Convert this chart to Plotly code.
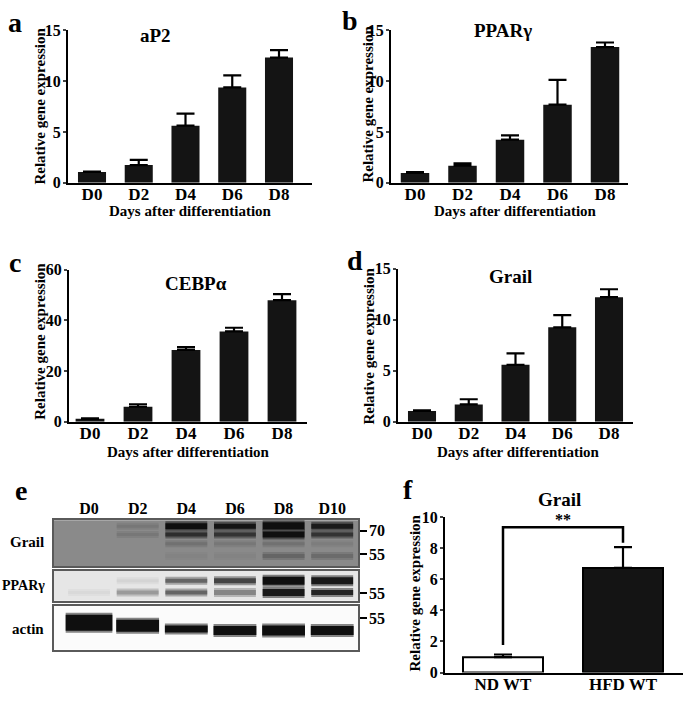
import plotly.graph_objects as go

W, H = 685, 702
FONT = "Liberation Serif"

# ---------------- data ----------------
days = ["D0", "D2", "D4", "D6", "D8"]

ap2_mean = [1.05, 1.73, 5.62, 9.38, 12.33]
ap2_sem = [0.05, 0.52, 1.18, 1.19, 0.74]

pparg_mean = [0.95, 1.67, 4.24, 7.68, 13.36]
pparg_sem = [0.10, 0.23, 0.42, 2.44, 0.45]

cebpa_mean = [1.15, 5.9, 28.3, 35.6, 47.9]
cebpa_sem = [0.2, 1.0, 1.1, 1.45, 2.4]

grail_mean = [1.06, 1.69, 5.57, 9.24, 12.2]
grail_sem = [0.05, 0.51, 1.13, 1.19, 0.77]

diet_groups = ["ND WT", "HFD WT"]
diet_mean = [0.99, 6.74]
diet_sem = [0.17, 1.34]
bracket_left, bracket_top, bracket_right = 1.77, 9.37, 8.36

# western blot (band intensity 0..1 per lane, apparent kDa)
blot_lanes = ["D0", "D2", "D4", "D6", "D8", "D10"]
grail_band_kda = [72.8, 67.5, 61.6, 53.75]
grail_bands = [
    [0.0, 0.15, 1.0, 0.95, 1.0, 0.9],
    [0.0, 0.15, 0.75, 0.7, 1.0, 0.7],
    [0.0, 0.0, 0.2, 0.15, 0.2, 0.1],
    [0.0, 0.0, 0.05, 0.05, 0.3, 0.25],
]
grail_band_px = [[0, 3, 6, 5, 8, 5], [0, 3, 4, 4, 6, 4], [0, 0, 3, 3, 3, 3], [0, 0, 4, 4, 4, 4]]

pparg_band_kda = [63.1, 55.6]
pparg_bands = [
    [0.0, 0.08, 0.6, 0.75, 1.0, 0.95],
    [0.06, 0.35, 0.6, 0.45, 0.95, 0.9],
]
pparg_band_px = [[0, 3, 4, 5, 8, 7], [3, 4, 4, 5, 7, 5]]

actin_kda = [52.2, 50.3, 48.1, 47.2, 47.2, 47.2]
actin_int = [1.0, 1.0, 1.0, 1.0, 1.0, 1.0]
actin_px = [16, 12, 7, 9, 10, 9]

# ---------------- helpers ----------------
def fx(px):
    return px / W

def fy(py):
    return 1 - py / H

fig = go.Figure()
layout = dict(
    width=W, height=H, margin=dict(l=0, r=0, t=0, b=0),
    paper_bgcolor="white", plot_bgcolor="white", showlegend=False,
    font=dict(family=FONT, color="black"),
)
annotations = []
shapes = []

def txt(x, y, s, size, angle=0, xanchor="center", yanchor="middle"):
    annotations.append(dict(x=fx(x), y=fy(y), xref="paper", yref="paper", text=s,
                            showarrow=False, textangle=angle, xanchor=xanchor, yanchor=yanchor,
                            font=dict(family=FONT, size=size, weight="bold", color="black")))

BAR = "#141414"

def bar_panel(idx, cats, mean, sem, xpx, ypx, xr, yr, dtick, colors=None, lines=None, width=0.6):
    xa, ya = f"x{idx}" if idx > 1 else "x", f"y{idx}" if idx > 1 else "y"
    fig.add_trace(go.Bar(
        x=list(range(len(cats))), y=mean, width=width, xaxis=xa, yaxis=ya,
        marker=dict(color=colors or BAR, line=dict(color="black", width=lines or 0)),
        error_y=dict(type="data", array=sem, arrayminus=[0] * len(sem), symmetric=False,
                     color="black", thickness=2.2, width=9),
    ))
    key = "" if idx == 1 else str(idx)
    layout["xaxis" + key] = dict(
        domain=[fx(xpx[0]), fx(xpx[1])], range=xr, anchor=ya,
        tickvals=list(range(len(cats))), ticktext=cats, showline=True, linecolor="black",
        linewidth=2, ticks="", showgrid=False, zeroline=False, ticklabelstandoff=-5,
        tickfont=dict(family=FONT, size=17, weight="bold"), fixedrange=True)
    layout["yaxis" + key] = dict(
        domain=[fy(ypx[1]), fy(ypx[0])], range=yr, anchor=xa, dtick=dtick,
        showline=True, linecolor="black", linewidth=2, ticks="outside", ticklen=3,
        tickwidth=2, showgrid=False, zeroline=False, ticklabelstandoff=-1,
        tickfont=dict(family=FONT, size=16, weight="bold"), fixedrange=True)

def xr_from(axis_px, c0, c_last, right_px, n):
    sp = (c_last - c0) / (n - 1)
    return [(axis_px - c0) / sp, (right_px - c0) / sp]

# panel a
bar_panel(1, days, ap2_mean, ap2_sem, (68, 312), (23, 179), xr_from(68, 92, 279, 312, 5), [0, 15], 5)
# panel b
bar_panel(2, days, pparg_mean, pparg_sem, (391, 628), (23, 179), xr_from(391, 415, 605, 628, 5), [0, 15], 5)
# panel c
bar_panel(3, days, cebpa_mean, cebpa_sem, (69, 307), (268, 424), xr_from(69, 90, 282, 307, 5), [0, 60], 20)
# panel d
bar_panel(4, days, grail_mean, grail_sem, (398, 633), (267, 424), xr_from(398, 422, 609, 633, 5), [0, 15], 5)
# panel f
bar_panel(5, diet_groups, diet_mean, diet_sem, (445, 683), (522, 681), xr_from(445, 503, 623, 683, 2),
          [0, 10], 2, colors=["white", BAR], lines=2, width=0.667)

fig.add_trace(go.Scatter(x=[0, 0, 1, 1], y=[bracket_left, bracket_top, bracket_top, bracket_right],
                         mode="lines", line=dict(color="black", width=2.5), xaxis="x5", yaxis="y5",
                         hoverinfo="skip"))
annotations.append(dict(x=0.5, y=bracket_top, xref="x5", yref="y5", text="**", showarrow=False,
                        yanchor="bottom", yshift=-3,
                        font=dict(family=FONT, size=16, weight="bold", color="black")))

# ---------------- western blot ----------------
lane_x = list(range(len(blot_lanes)))
blot_xr = [-0.72, 5.53]
boxes = [
    (6, (525, 572), [47.2, 76.6], 138, [70, 55]),
    (7, (576.5, 607.5), [50.3, 69.7], 230, [55]),
    (8, (613, 657.5), [35.0, 62.8], 251, [55]),
]
for idx, (ytop, ybot), yr, bg, marks in boxes:
    k = str(idx)
    layout["xaxis" + k] = dict(
        domain=[fx(54), fx(358)], range=blot_xr, anchor="y" + k, showgrid=False, zeroline=False,
        showline=True, mirror=True, linecolor="#5a5a5a", linewidth=1.5, ticks="",
        tickvals=lane_x, ticktext=blot_lanes, side="top", showticklabels=(idx == 6),
        ticklabelstandoff=-2,
        tickfont=dict(family=FONT, size=16, weight="bold"), fixedrange=True)
    layout["yaxis" + k] = dict(
        domain=[fy(ybot), fy(ytop)], range=yr, anchor="x" + k, side="right", showgrid=False,
        zeroline=False, showline=True, mirror=True, linecolor="#5a5a5a", linewidth=1.5,
        tickvals=marks, ticktext=[str(m) for m in marks], ticks="outside", ticklen=7,
        tickwidth=1.5, tickcolor="black", ticklabelstandoff=-1,
        tickfont=dict(family=FONT, size=16, weight="bold"), fixedrange=True)
    shapes.append(dict(type="rect", xref=f"x{k} domain", yref=f"y{k} domain", x0=0, x1=1, y0=0, y1=1,
                       fillcolor=f"rgb({bg},{bg},{bg})", line=dict(width=0), layer="below"))

def band(axis, lane, kda, inten, px, bg, hw=0.43):
    if inten <= 0 or px <= 0:
        return
    lvl_soft = int(bg - inten * 0.5 * (bg - 15))
    lvl = int(bg - inten * (bg - 15))
    for w, l in ((px + 4, lvl_soft), (px, lvl)):
        fig.add_trace(go.Scatter(x=[lane - hw, lane + hw], y=[kda, kda], mode="lines",
                                 line=dict(color=f"rgb({l},{l},{l})", width=w),
                                 xaxis="x" + axis, yaxis="y" + axis, hoverinfo="skip"))

for row, kda in enumerate(grail_band_kda):
    for ln in lane_x:
        band("6", ln, kda, grail_bands[row][ln], grail_band_px[row][ln], 138)
for row, kda in enumerate(pparg_band_kda):
    for ln in lane_x:
        band("7", ln, kda, pparg_bands[row][ln], pparg_band_px[row][ln], 230)
for ln in lane_x:
    band("8", ln, actin_kda[ln], actin_int[ln], actin_px[ln], 251, hw=0.48 if ln == 0 else 0.44)

# ---------------- text ----------------
# panel letters
txt(15, 15, "a", 28)
txt(350, 13, "b", 28)
txt(15, 261, "c", 28)
txt(355, 259, "d", 28)
txt(21, 494, "e", 28)
txt(408, 493, "f", 28)
# titles
txt(155, 28, "aP2", 19)
txt(503, 23, "PPARγ", 19)
txt(196, 282, "CEBPα", 19)
txt(510, 275, "Grail", 19)
txt(559, 504, "Grail", 19)
# axis titles
for x, y in ((40, 101), (368, 99), (40, 342), (369, 347), (415, 600)):
    txt(x, y, "Relative gene expression", 15, angle=-90)
for x, y in ((190, 208), (515, 208), (188, 455), (518, 455)):
    txt(x, y, "Days after differentiation", 15)
# blot row labels
txt(46, 547, "Grail", 15, xanchor="right")
txt(47, 592, "PPARγ", 14, xanchor="right")
txt(46, 636, "actin", 15, xanchor="right")

layout["annotations"] = annotations
layout["shapes"] = shapes
fig.update_layout(**layout)
fig.write_html(
    "out.html",
    config={"displayModeBar": False},
    post_script="document.body.style.margin='0';document.body.style.padding='0';"
                "document.documentElement.style.overflow='hidden';",
)
